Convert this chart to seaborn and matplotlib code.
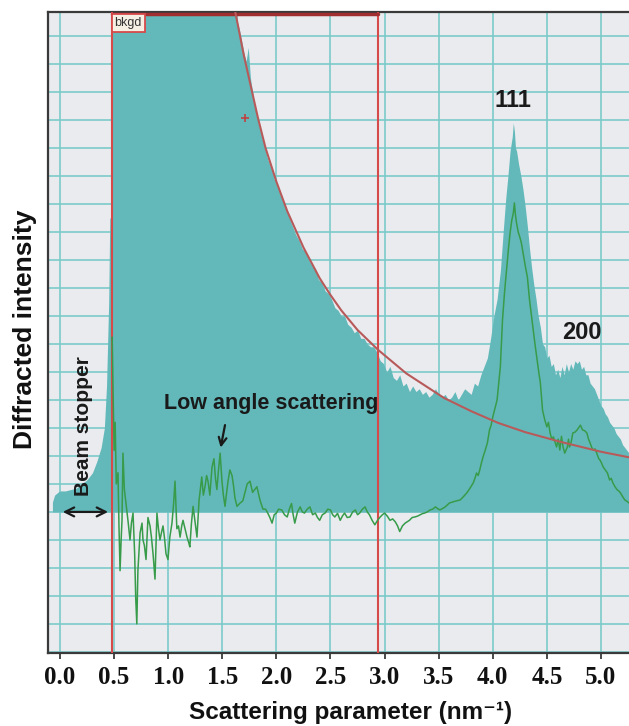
import matplotlib
matplotlib.use("Agg")
import matplotlib.pyplot as plt
import seaborn as sns
import numpy as np
import pandas as pd

# ---------------- data ----------------
x_ticks = [0.0, 0.5, 1.0, 1.5, 2.0, 2.5, 3.0, 3.5, 4.0, 4.5, 5.0]
x_tick_labels = ["0.0", "0.5", "1.0", "1.5", "2.0", "2.5", "3.0", "3.5", "4.0", "4.5", "5.0"]

# raw diffracted intensity (teal histogram), clipped at the top of the frame
raw_x = [-0.07, -0.05, -0.02, 0.00, 0.05, 0.10, 0.15, 0.20, 0.25, 0.30, 0.34, 0.38, 0.41, 0.43, 0.45,
         0.46, 0.475, 0.48, 1.62, 1.64, 1.66, 1.68, 1.70, 1.72, 1.74, 1.76, 1.78, 1.80, 1.82, 1.84,
         1.86, 1.88, 1.90, 1.92, 1.94, 1.96, 1.98, 2.00, 2.03, 2.06, 2.09, 2.12, 2.15, 2.18, 2.21,
         2.24, 2.27, 2.30, 2.33, 2.36, 2.39, 2.42, 2.45, 2.48, 2.51, 2.54, 2.57, 2.60, 2.63, 2.66,
         2.69, 2.72, 2.75, 2.78, 2.81, 2.84, 2.87, 2.90, 2.93, 2.96, 2.99, 3.02, 3.05, 3.08, 3.11,
         3.14, 3.17, 3.20, 3.23, 3.26, 3.29, 3.32, 3.35, 3.38, 3.41, 3.44, 3.47, 3.50, 3.53, 3.56,
         3.59, 3.62, 3.65, 3.68, 3.71, 3.74, 3.77, 3.80, 3.83, 3.86, 3.89, 3.92, 3.95, 3.98, 4.01,
         4.04, 4.07, 4.10, 4.12, 4.14, 4.16, 4.18, 4.19, 4.20, 4.21, 4.22, 4.24, 4.26, 4.28, 4.30,
         4.32, 4.34, 4.36, 4.38, 4.40, 4.42, 4.44, 4.46, 4.48, 4.50, 4.52, 4.54, 4.56, 4.58, 4.60,
         4.62, 4.64, 4.66, 4.68, 4.70, 4.72, 4.74, 4.76, 4.78, 4.80, 4.82, 4.84, 4.86, 4.88, 4.90,
         4.92, 4.94, 4.96, 4.98, 5.00, 5.02, 5.04, 5.06, 5.08, 5.10, 5.12, 5.14, 5.16, 5.18, 5.20,
         5.22, 5.24, 5.26, 5.30]
raw_y = [0.35, 0.6, 0.7, 0.75, 0.75, 0.8, 0.85, 1.0, 1.15, 1.4, 1.8, 2.3, 3.0, 4.5, 7.5,
         10.5, 10.5, 20.0, 20.0, 17.5, 17.2, 16.8, 16.4, 16.1, 16.6, 15.5, 15.0, 14.5, 14.2, 13.8,
         13.5, 13.2, 12.9, 12.6, 12.4, 12.2, 11.9, 11.7, 11.4, 11.1, 10.8, 10.5, 10.2, 9.9, 9.7,
         9.4, 9.3, 9.0, 8.8, 8.7, 8.3, 8.2, 7.9, 7.8, 7.6, 7.3, 7.2, 7.0, 7.0, 6.7,
         6.6, 6.4, 6.5, 6.2, 6.2, 6.0, 5.9, 5.9, 5.7, 5.4, 5.3, 5.0, 5.2, 4.8, 4.7,
         4.9, 4.5, 4.6, 4.3, 4.5, 4.3, 4.4, 4.2, 4.3, 4.1, 4.2, 4.4, 4.2, 4.1, 4.2,
         4.0, 4.1, 4.3, 4.0, 4.2, 4.4, 4.3, 4.2, 4.6, 4.5, 4.9, 5.2, 5.5, 6.2, 7.0,
         7.6, 8.6, 10.2, 11.2, 12.0, 12.9, 13.4, 13.9, 13.6, 13.0, 12.9, 12.4, 12.0, 11.5, 10.9,
         10.2, 9.4, 8.7, 8.1, 7.6, 7.0, 6.6, 6.0, 5.9, 5.5, 5.6, 5.2, 5.3, 4.9, 5.1,
         4.8, 5.2, 4.9, 5.3, 5.0, 5.3, 5.1, 5.4, 5.3, 5.4, 5.1, 5.2, 4.9, 4.9, 4.6,
         4.5, 4.4, 4.2, 4.0, 3.8, 3.7, 3.5, 3.4, 3.2, 3.1, 3.0, 2.8, 2.7, 2.6, 2.4,
         2.3, 2.2, 2.1, 2.0]

# background-subtracted profile (green line)
sub_x = [0.482, 0.49, 0.50, 0.51, 0.52, 0.536, 0.545, 0.555, 0.565, 0.573, 0.582, 0.595, 0.61, 0.628,
         0.647, 0.66, 0.675, 0.69, 0.70, 0.71, 0.72, 0.74, 0.758, 0.767, 0.78, 0.795, 0.813, 0.832,
         0.845, 0.86, 0.878, 0.896, 0.91, 0.924, 0.94, 0.952, 0.965, 0.98, 0.998, 1.015, 1.035, 1.05,
         1.063, 1.08, 1.095, 1.11, 1.125, 1.137, 1.155, 1.174, 1.19, 1.20, 1.215, 1.23, 1.25, 1.266,
         1.285, 1.30, 1.31, 1.325, 1.34, 1.355, 1.368, 1.385, 1.405, 1.423, 1.437, 1.45, 1.465, 1.48,
         1.497, 1.51, 1.525, 1.54, 1.553, 1.57, 1.59, 1.605, 1.617, 1.636, 1.66, 1.69, 1.71, 1.73,
         1.756, 1.78, 1.80, 1.82, 1.85, 1.876, 1.90, 1.92, 1.94, 1.96, 1.98, 2.00, 2.02, 2.05, 2.075,
         2.10, 2.12, 2.14, 2.155, 2.17, 2.195, 2.22, 2.24, 2.26, 2.285, 2.31, 2.335, 2.36, 2.38, 2.40,
         2.425, 2.45, 2.475, 2.50, 2.52, 2.54, 2.565, 2.59, 2.61, 2.63, 2.655, 2.68, 2.705, 2.73,
         2.75, 2.77, 2.795, 2.82, 2.84, 2.86, 2.885, 2.91, 2.935, 2.96, 2.98, 3.00, 3.025, 3.05,
         3.075, 3.10, 3.12, 3.14, 3.165, 3.19, 3.21, 3.23, 3.255, 3.28, 3.305, 3.33, 3.35, 3.37,
         3.395, 3.42, 3.445, 3.47, 3.49, 3.51, 3.535, 3.56, 3.58, 3.60, 3.65, 3.70, 3.73, 3.76, 3.79,
         3.82, 3.835, 3.85, 3.865, 3.88, 3.895, 3.91, 3.93, 3.95, 3.97, 3.985, 4.00, 4.02, 4.04,
         4.055, 4.07, 4.08, 4.09, 4.11, 4.13, 4.145, 4.16, 4.175, 4.19, 4.20, 4.21, 4.22, 4.235,
         4.25, 4.265, 4.28, 4.30, 4.32, 4.33, 4.34, 4.355, 4.37, 4.39, 4.41, 4.425, 4.44, 4.45, 4.46,
         4.48, 4.50, 4.515, 4.53, 4.545, 4.56, 4.575, 4.59, 4.605, 4.62, 4.635, 4.65, 4.665, 4.69,
         4.70, 4.71, 4.725, 4.74, 4.76, 4.78, 4.80, 4.81, 4.83, 4.85, 4.87, 4.885, 4.90, 4.915, 4.93,
         4.945, 4.96, 4.98, 4.99, 5.005, 5.02, 5.04, 5.06, 5.08, 5.095, 5.11, 5.13, 5.15, 5.165, 5.18,
         5.20, 5.22, 5.24, 5.26, 5.29]
sub_y = [6.25, 4.5, 2.2, 3.2, 1.0, 1.4, -0.5, -2.1, -1.0, -0.3, 2.1, 0.8, 0.3, -0.3,
         -1.0, -0.4, -0.04, -1.5, -3.1, -4.0, -2.1, -0.75, -0.4, -1.0, -1.2, -1.7, -0.2, -0.5,
         -0.9, -1.5, -2.4, -0.04, -0.6, -1.0, -0.7, -0.5, -0.9, -1.5, -1.7, -0.9, -0.4, 0.3,
         1.1, -0.6, -0.5, -0.9, -0.5, -0.3, -0.6, -0.9, -1.1, -1.25, -0.4, 0.2, -0.4, -0.9,
         0.4, 0.9, 1.25, 0.6, 0.9, 1.3, 1.1, 0.6, 1.6, 1.9, 1.2, 0.8, 1.5, 2.1,
         1.1, 0.6, 0.2, 0.7, 1.1, 1.5, 1.3, 0.9, 0.5, 0.2, 0.3, 0.4, 0.7, 1.0,
         1.1, 0.7, 0.8, 0.9, 0.4, 0.1, 0.1, -0.04, -0.2, -0.4, -0.1, -0.04, 0.1, 0.07, -0.1,
         -0.18, 0.1, 0.3, -0.1, -0.4, 0.0, 0.18, 0.0, -0.04, 0.1, 0.18, -0.1, -0.04, -0.2, -0.3,
         -0.1, -0.04, 0.1, 0.07, -0.1, -0.18, -0.05, -0.3, -0.15, -0.04, -0.2, -0.18, 0.0, 0.07,
         -0.1, -0.04, 0.1, 0.18, 0.0, -0.1, -0.3, -0.46, -0.3, -0.18, -0.1, -0.04, -0.15, -0.3,
         -0.25, -0.36, -0.5, -0.7, -0.5, -0.4, -0.35, -0.3, -0.2, -0.18, -0.15, -0.1, -0.06, -0.04,
         0.0, 0.07, 0.1, 0.18, 0.12, 0.07, 0.12, 0.18, 0.25, 0.32, 0.38, 0.43, 0.55, 0.68, 0.85,
         1.04, 1.2, 1.39, 1.3, 1.5, 1.75, 1.96, 2.2, 2.46, 2.93, 3.1, 3.39, 3.7, 4.0,
         4.6, 5.18, 6.0, 6.86, 7.9, 8.75, 9.4, 9.96, 10.4, 10.68, 11.04, 10.6, 10.32, 10.0,
         9.82, 9.6, 9.25, 8.8, 8.39, 8.0, 7.57, 7.1, 6.61, 6.0, 5.43, 5.0, 4.61, 4.1, 3.64,
         3.3, 3.04, 3.2, 2.82, 2.6, 2.68, 2.5, 2.32, 2.6, 2.21, 2.7, 2.32, 2.1, 2.32,
         2.6, 2.32, 2.5, 2.82, 2.85, 2.93, 3.04, 3.1, 2.93, 2.9, 2.82, 2.6, 2.46, 2.3, 2.21,
         2.25, 2.11, 1.9, 1.86, 1.75, 1.61, 1.5, 1.39, 1.14, 1.2, 1.04, 0.9, 0.79, 0.75, 0.68,
         0.55, 0.43, 0.38, 0.32, 0.28]

# fitted background curve (red)
fit_x = [1.50, 1.55, 1.62, 1.70, 1.83, 1.90, 2.00, 2.10, 2.25, 2.40, 2.50, 2.60, 2.75, 2.94,
         3.20, 3.55, 3.80, 4.05, 4.30, 4.63, 5.00, 5.30]
fit_y = [21.5, 19.5, 17.86, 16.3, 14.07, 13.0, 11.8, 10.75, 9.45, 8.35, 7.75, 7.2, 6.5, 5.79,
         4.95, 4.07, 3.6, 3.18, 2.85, 2.5, 2.15, 1.92]

bkgd_range = [0.48, 2.94]      # background-fit window (red box)
fit_marker = [1.71, 14.07]     # red "+" on the fit
beam_stop = [0.0, 0.47]        # beam stopper extent

peak_labels = ["111", "200"]
peak_pos = [(4.19, 14.7), (4.82, 6.4)]

# ---------------- style ----------------
sns.set_theme(style="whitegrid")
plt.rcParams["font.family"] = ["Liberation Sans", "DejaVu Sans"]

TEAL = "#63b9ba"
GRID = "#78c9c9"
BG = "#e9ebef"
GREEN = "#379b4a"
FITRED = "#b85a5a"
BOXRED = "#d64a4a"

fig = plt.figure(figsize=(6.29, 7.26), dpi=100)
ax = fig.add_axes([48 / 629, 73 / 726, 584 / 629, 641 / 726])
ax.set_facecolor(BG)
ax.set_xlim(-0.111, 5.287)
ax.set_ylim(-5.04, 17.86)

# grid
ax.set_xticks(x_ticks)
ax.set_xticklabels(x_tick_labels)
ax.set_yticks(list(range(-5, 18)))
ax.grid(True, color=GRID, lw=1.15, zorder=0)
ax.set_axisbelow(True)

# teal raw intensity
ax.fill_between(raw_x, 0, raw_y, color=TEAL, lw=0, zorder=1)

# background-fit window
ax.plot([bkgd_range[0], bkgd_range[0]], [-5.04, 17.86], color=BOXRED, lw=1.5, zorder=3)
ax.plot([bkgd_range[1], bkgd_range[1]], [-5.04, 17.86], color=BOXRED, lw=1.5, zorder=3)
ax.plot([bkgd_range[0], bkgd_range[1]], [17.78, 17.78], color="#a03030", lw=2.5, zorder=3,
        clip_on=False)

# subtracted profile and fitted background
df_sub = pd.DataFrame({"q": sub_x, "I": sub_y})
df_fit = pd.DataFrame({"q": fit_x, "I": fit_y})
sns.lineplot(data=df_sub, x="q", y="I", ax=ax, color=GREEN, lw=1.1, estimator=None, sort=False, zorder=4)
sns.lineplot(data=df_fit, x="q", y="I", ax=ax, color=FITRED, lw=1.5, estimator=None, sort=False, zorder=4)
ax.plot([fit_marker[0]], [fit_marker[1]], marker="+", color="#c04040", ms=6, mew=1.2, zorder=5)

# spines and ticks
for side in ["left", "top", "bottom"]:
    ax.spines[side].set_visible(True)
    ax.spines[side].set_color("#3a3a3a")
    ax.spines[side].set_linewidth(1.6)
ax.spines["right"].set_visible(False)
ax.tick_params(axis="x", which="both", bottom=True, direction="out", length=4, width=1.3,
               color="#3a3a3a", pad=5, labelsize=18)
ax.tick_params(axis="y", left=False, labelleft=False)
for lbl in ax.get_xticklabels():
    lbl.set_fontfamily(["Liberation Serif", "DejaVu Serif"])
    lbl.set_fontweight("bold")
    lbl.set_color("#111111")
ax.set_xlabel("")
ax.set_ylabel("")

# "bkgd" tag
ax.text(bkgd_range[0] + 0.025, 17.68, "bkgd", fontsize=9, color="#333333", ha="left", va="top",
        bbox=dict(boxstyle="square,pad=0.25", fc="#f6efe4", ec=BOXRED, lw=1.3), zorder=6)

# peak labels
for lab, (px, py) in zip(peak_labels, peak_pos):
    ax.text(px, py, lab, fontsize=17, fontweight="bold", color="#1a1a1a", ha="center", va="center", zorder=6)

# low angle scattering
ax.text(1.95, 3.89, "Low angle scattering", fontsize=15.5, fontweight="bold", color="#1a1a1a",
        ha="center", va="center", zorder=6)
ax.annotate("", xy=(1.48, 2.2), xytext=(1.53, 3.2),
            arrowprops=dict(arrowstyle="->", lw=1.6, color="#1a1a1a", mutation_scale=14), zorder=6)

# beam stopper
ax.text(0.22, 3.05, "Beam stopper", fontsize=15, fontweight="bold", color="#1a1a1a",
        rotation=90, ha="center", va="center", zorder=6)
ax.annotate("", xy=(beam_stop[0], 0), xytext=(beam_stop[1], 0),
            arrowprops=dict(arrowstyle="<->", lw=1.6, color="#1a1a1a", mutation_scale=16), zorder=6)

# axis titles
fig.text(351 / 629, 1 - 713 / 726, "Scattering parameter (nm\u207b\u00b9)", fontsize=17.5,
         fontweight="bold", ha="center", va="center", color="#111111",
         family=["Liberation Sans", "DejaVu Sans"])
fig.text(25 / 629, 1 - 329 / 726, "Diffracted intensity", fontsize=19, fontweight="bold",
         rotation=90, ha="center", va="center", color="#111111")

fig.savefig("out.png", dpi=100, facecolor="white")
